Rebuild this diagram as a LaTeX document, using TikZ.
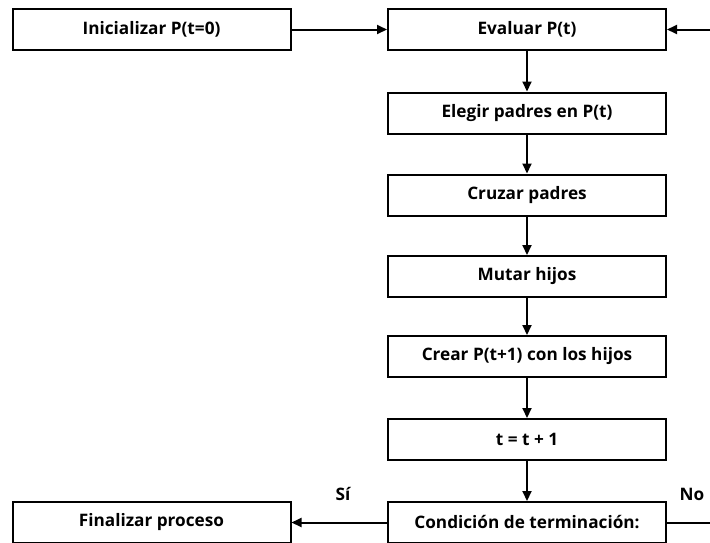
\documentclass[tikz,border=0pt]{standalone}
\usepackage{fontspec}
\setmainfont{Open Sans}
\usetikzlibrary{arrows.meta,positioning}

\begin{document}
\begin{tikzpicture}[x=1pt, y=-1pt, >={Triangle[length=10pt,width=9pt]},
  box/.style={draw, line width=2pt, minimum width=278pt, minimum height=41pt, inner sep=0pt, font=\fontsize{17.2}{20}\selectfont\bfseries},
  lbl/.style={font=\fontsize{17.2}{20}\selectfont\bfseries},
  arr/.style={->, line width=2pt}]
\useasboundingbox (0,0) rectangle (710,542);
\clip (0,0) rectangle (710,542);
% main column
\node[box] (eval) at (527,29.5) {Evaluar P(t)};
\node[box] (init) at (151.5,29.5) {Inicializar P(t=0)};
\foreach \n/\y/\t in {elegir/113/Elegir padres en P(t), cruzar/195/Cruzar padres, mutar/276.5/Mutar hijos, crear/356.5/Crear P(t+1) con los hijos, incr/439.5/{t = t + 1}, cond/522.5/Condición de terminación:}
  \node[box] (\n) at (527,\y) {\t};
\node[box] (fin) at (151.5,522.5) {Finalizar proceso};
\coordinate (loop) at (740,522.5);
% arrows
\draw[arr] (init) -- (eval);
\foreach \a/\b in {eval/elegir, elegir/cruzar, cruzar/mutar, mutar/crear, crear/incr, incr/cond}
  \draw[arr] (\a) -- (\b);
\draw[arr] (cond) -- (fin);
\draw[arr] (cond) -- (loop) |- (eval);
\node[lbl] (si) at (343,494) {Sí};
\node[lbl] (no) at (692,494) {No};
\end{tikzpicture}
\end{document}
